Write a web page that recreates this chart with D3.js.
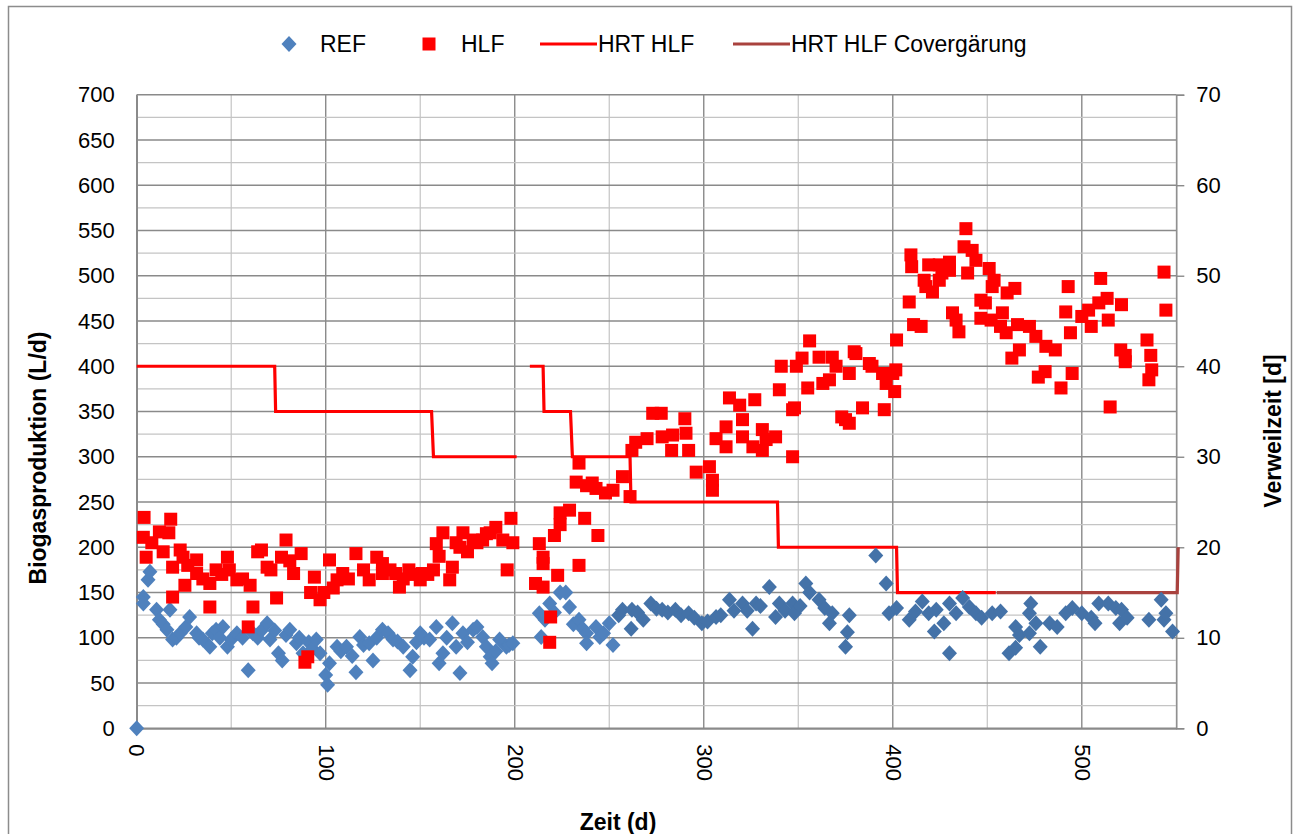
<!DOCTYPE html>
<html><head><meta charset="utf-8">
<script src="https://cdn.jsdelivr.net/npm/d3@7"></script>
<style>body{margin:0;background:#fff} text{font-family:"Liberation Sans",Arial,sans-serif;fill:#000}</style>
</head><body><svg id="c" width="1298" height="834"></svg>
<script>
// REF biogas production (L/d) – [day, value]
const refData = [[0,0],[3.5,145],[3.5,138],[6,164],[7,173],[10.5,131],[12,120],[14,115],[16,109],[17.6,131],[19,98],[21,100],[23,105],[26,112],[28,123],[31.7,105],[33,100],[35,98],[38.7,90],[40,105],[42,109],[44,100],[45.6,112],[48,90],[50,98],[53,105],[56,100],[59,64],[61.5,105],[64,100],[66,108],[69,116],[70.5,98],[73,108],[75,83],[77,75],[79,103],[81,109],[84.5,94],[86,100],[88,83],[91,95],[93,88],[95,98],[97,83],[100,59],[101,48],[102,72],[106,90],[108,85],[111,90],[114,80],[116,62],[118,101],[120,92],[123,94],[125,75],[127,100],[130,109],[133,105],[135.6,98],[138,96],[141,90],[144.6,64],[146,79],[148,95],[150,105],[152,100],[155,98],[158.5,112],[160,72],[162,83],[164,100],[167,116],[169,90],[171,61],[172.6,105],[175,95],[178,109],[180,112],[183,101],[185,90],[187,79],[188,72],[190,85],[192,98],[195.6,90],[197,92],[199,94],
[213,127],[214,101],[216,120],[218.5,138],[221,128],[224,150],[227,150],[229,134],[231,115],[234,120],[236,110],[238,105],[238,94],[243,112],[245,101],[247,105],[250,116],[252,92]];
const ref2Data = [[255,125],[257,131],[261.6,110],[262,131],[265,128],[268,120],[272,138],[275,132],[278,131],[281,128],[285,131],[288,125],[292,127],[295,122],[299,116],[302,118],[306.5,123],[309,125],[313.6,142],[316,130],[320.5,138],[323,130],[325.8,110],[327.7,138],[330,135],[334.7,156],[338,123],[340,138],[343,130],[347,138],[348,127],[351,135],[354,160],[356,150],[361,142],[364,133],[366.5,116],[368,127],[375,90],[376,106],[377,125],
[391,191],[396.5,160],[398,127],[402,133],[408.7,120],[412,129],[415.6,140],[419,127],[422,107],[423,131],[427,116],[430,138],[430,83],[433.5,127],[437,144],[440.5,134],[444,127],[447,122],[452.6,127],[457,129],[461.5,83],[465,112],[465,89],[467,103],[472.3,127],[472.3,105],[473,138],[475.7,116],[478,90],[483,116],[487,112],[491.5,127],[495,133],[500,127],[505,122],[507,116],[509,138],[514,138],[518,133],[520,116],[521,131],[524,122],[535.5,120],[542,142],[543.5,120],[544.5,127],[548,107]];
// HLF biogas production (L/d) – [day, value]
const hlfData = [[3.5,211],[3.9,233],[5,189],[8,205],[12,217],[14,195],[17,216],[18,231],[19,178],[19,145],[23,197],[24.5,189],[25.5,158],[27,180],[31.7,186],[31.7,171],[35,165],[38.7,134],[38.7,160],[42,175],[45,170],[48,189],[49,175],[53,164],[56,165],[59,112],[60,158],[61.5,134],[64,195],[66,197],[69,178],[71,175],[74,144],[76.6,189],[79,208],[81,185],[83,171],[87,193],[89,73],[90.5,79],[92,150],[94,167],[97,142],[99,150],[102,186],[104,155],[106,164],[109,171],[112,165],[116,193],[120,175],[123,164],[127,189],[130,182],[130,171],[134,175],[137,171],[139,156],[141,165],[144,175],[147,170],[150,164],[151,171],[154,170],[157,175],[158.5,204],[160,190],[162,216],[165.6,164],[167,178],[169,205],[171,200],[172.6,216],[175,195],[178,208],[180,205],[183,208],[185,215],[187,216],[190,222],[193.7,208],[196,175],[198,232],[199,205],
[211,160],[213,204],[215,189],[215,182],[215,156],[218.5,95],[219,123],[221,213],[222.7,169],[224,225],[224,238],[229,241],[232.5,272],[234,293],[234,180],[237,232],[238,268],[241,271],[243,265],[244,213],[248,260],[252,263],[257,278],[261,256],[262,307],[264,316],[270,320],[273,348],[277.5,348],[278,322],[283,307],[283.5,324],[290,342],[290.6,326],[292,307],[296,283],[303,289],[304.6,274],[304.6,263],[306.5,320],[311.8,333],[311.8,311],[313.6,365],[319,357],[320.5,341],[320.5,322],[326,311],[327,363],[331,330],[331,307],[333,319],[338,322],[340,374],[341,400],[347,352],[347,300],[348,354],[349,400],[352,409],[355,376],[356,428],[361,410],[363,381],[366.5,385],[368,410],[370,400],[373,344],[375,341],[377,392],[377,337],[379.6,416],
[380.5,414],[384,354],[387.6,403],[389,400],[394.6,392],[395.5,352],[396.5,381],[400,392],[401,372],[401.6,396],[402,429],[408.7,471],[409.6,523],[410,510],[411,446],[415,444],[416.6,495],[417.5,488],[419,512],[421,482],[424.6,512],[424.6,495],[426,503],[430,515],[430,506],[431.6,459],[433.5,451],[435,438],[437.7,532],[438.7,552],[439.6,503],[442,528],[444,517],[446.6,473],[446.6,453],[449,470],[451,508],[452,451],[452.6,488],[453.6,495],[457,444],[458,459],[460,437],[460.5,481],[463,409],[464.6,486],[466,446],[467,418],[472.3,444],[475.7,433],[477,388],[480.6,394],[481,422],[486,418],[489,376],[491.5,460],[492.8,488],[494,437],[494.9,392],[500,455],[503.6,462],[505,444],[509,470],[510,497],[513.4,475],[514,451],[515,355],[520.6,418],[521,468],[523,405],[523,412],[534.5,429],[535.5,385],[536.5,412],[537,396],[543.5,504],[544.5,462]];
// Hydraulic retention time (d) – right axis
const hrtHlf = [[0,40],[73,40],[73.5,35],[156,35],[157,30],[201,30],null,[208,40],[215,40],[215.5,35],[229.5,35],[230.5,30],[261,30],[261.5,25],[339,25],[339.5,20],[402,20],[402.5,15],[454.5,15]];
const hrtCo = [[455,15],[550.5,15],[551,20]];
const xTicks = [0,100,200,300,400,500];
const yTicks = d3.range(0,701,50);
const y2Ticks = d3.range(0,71,10);
const legendItems = ["REF","HLF","HRT HLF","HRT HLF Covergärung"];

const L=136.7,R=1176.3,T=94.7,B=728.3;
const svg=d3.select("#c");
const x=d3.scaleLinear().domain([0,550]).range([L,R]);
const y=d3.scaleLinear().domain([0,700]).range([B,T]);
const y2=d3.scaleLinear().domain([0,70]).range([B,T]);
const FS=22, TFS=23, LFS=23, DARK="#8a8a8a", LIGHT="#c4c4c4";

svg.append("rect").attr("x",8.5).attr("y",6.5).attr("width",1283).attr("height",840).attr("fill","none").attr("stroke","#8c8c8c").attr("stroke-width",1.5);

// gridlines
const g=svg.append("g");
d3.range(0,551,50).forEach(d=>{
  g.append("line").attr("x1",x(d)).attr("x2",x(d)).attr("y1",T).attr("y2",B)
   .attr("stroke",d%100===0?DARK:LIGHT).attr("stroke-width",d%100===0?1.4:1.2);
});
d3.range(0,701,25).forEach(d=>{
  g.append("line").attr("x1",L).attr("x2",R).attr("y1",y(d)).attr("y2",y(d))
   .attr("stroke",d%50===0?DARK:LIGHT).attr("stroke-width",d%50===0?1.4:1.2);
});
// right axis line with ticks
const ay2=svg.append("g").attr("transform",`translate(${R},0)`).call(d3.axisRight(y2).tickValues(y2Ticks).tickSize(8).tickPadding(12).tickFormat(d3.format("d")));
ay2.select(".domain").attr("stroke",DARK).attr("stroke-width",1.4);
ay2.selectAll("line").attr("stroke",DARK).attr("stroke-width",1.4);
ay2.selectAll("text").attr("font-size",FS).attr("font-family","Liberation Sans, Arial").attr("fill","#000");
// left axis
const ay=svg.append("g").attr("transform",`translate(${L},0)`).call(d3.axisLeft(y).tickValues(yTicks).tickSize(0).tickPadding(22).tickFormat(d3.format("d")));
ay.select(".domain").attr("stroke",DARK).attr("stroke-width",1.6);
ay.selectAll("text").attr("font-size",FS).attr("font-family","Liberation Sans, Arial").attr("fill","#000");
// bottom axis
const ax=svg.append("g").attr("transform",`translate(0,${B})`).call(d3.axisBottom(x).tickValues(xTicks).tickSize(0).tickFormat(d3.format("d")));
ax.select(".domain").attr("stroke",DARK).attr("stroke-width",1.8);
ax.selectAll("text").attr("font-size",FS).attr("font-family","Liberation Sans, Arial").attr("fill","#000")
  .attr("transform","rotate(90)").attr("text-anchor","start").attr("x",16).attr("y",0).attr("dy","0.35em");

// HRT lines
const line=d3.line().defined(d=>d!==null).x(d=>x(d[0])).y(d=>y2(d[1]));
svg.append("path").attr("d",line(hrtHlf)).attr("fill","none").attr("stroke","#ff0000").attr("stroke-width",3.2);
svg.append("path").attr("d",line(hrtCo)).attr("fill","none").attr("stroke","#a9423e").attr("stroke-width",3.2);

// markers
const dia=(cx,cy,c,p)=>p.append("path").attr("d",`M${cx},${cy-8}L${cx+7.5},${cy}L${cx},${cy+8}L${cx-7.5},${cy}Z`).attr("fill",c);
const mk=svg.append("g");
refData.forEach(d=>dia(x(d[0]),y(d[1]),"#4f81bd",mk));
ref2Data.forEach(d=>dia(x(d[0]),y(d[1]),"#4472a8",mk));
hlfData.forEach(d=>mk.append("rect").attr("x",x(d[0])-6.5).attr("y",y(d[1])-6.5).attr("width",13).attr("height",13).attr("fill","#ff0000"));

// axis titles
svg.append("text").attr("transform",`translate(46,458) rotate(-90)`).attr("text-anchor","middle").attr("font-size",TFS).attr("font-weight","bold").text("Biogasproduktion (L/d)");
svg.append("text").attr("transform",`translate(1281,431) rotate(-90)`).attr("text-anchor","middle").attr("font-size",TFS).attr("font-weight","bold").text("Verweilzeit [d]");
svg.append("text").attr("x",618).attr("y",830).attr("text-anchor","middle").attr("font-size",TFS).attr("font-weight","bold").text("Zeit (d)");

// legend
const ly=44;
dia(289,ly,"#4f81bd",svg);
svg.append("text").attr("x",320).attr("y",ly).attr("dy","0.35em").attr("font-size",LFS).text(legendItems[0]);
svg.append("rect").attr("x",422.5).attr("y",ly-6.5).attr("width",13).attr("height",13).attr("fill","#ff0000");
svg.append("text").attr("x",461).attr("y",ly).attr("dy","0.35em").attr("font-size",LFS).text(legendItems[1]);
svg.append("line").attr("x1",540).attr("x2",597).attr("y1",ly).attr("y2",ly).attr("stroke","#ff0000").attr("stroke-width",3.2);
svg.append("text").attr("x",598).attr("y",ly).attr("dy","0.35em").attr("font-size",LFS).text(legendItems[2]);
svg.append("line").attr("x1",733).attr("x2",790).attr("y1",ly).attr("y2",ly).attr("stroke","#a9423e").attr("stroke-width",3.2);
svg.append("text").attr("x",791).attr("y",ly).attr("dy","0.35em").attr("font-size",LFS).text(legendItems[3]);
</script></body></html>
